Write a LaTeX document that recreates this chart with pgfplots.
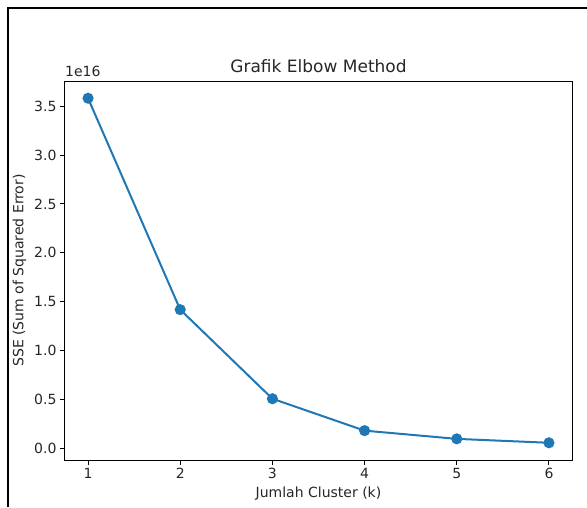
\documentclass[border=0pt]{standalone}
\usepackage{fontspec}
\setmainfont{DejaVu Sans}
\usepackage{pgfplots}
\pgfplotsset{compat=1.18}
\definecolor{mplblue}{RGB}{31,119,180}
\begin{document}
\begin{tikzpicture}
\path[use as bounding box] (0pt,0pt) rectangle (587pt,-507pt);
\draw[line width=2.2pt] (8pt,-507pt) -- (8pt,-8pt) -- (587pt,-8pt);
\begin{axis}[
  at={(65pt,-460pt)},anchor=south west,
  scale only axis,width=507pt,height=379pt,
  xmin=0.75,xmax=6.25,ymin=-0.116,ymax=3.756,
  xtick={1,2,3,4,5,6},ytick={0,0.5,1,1.5,2,2.5,3,3.5},
  scaled y ticks=false,
  yticklabel style={/pgf/number format/.cd,fixed,fixed zerofill,precision=1},
  /pgf/number format/assume math mode=true,
  tick pos=left,tick align=outside,major tick length=5pt,
  tick style={black,line width=1pt},
  axis line style={black,line width=1pt},
  tick label style={font=\fontsize{14}{16}\selectfont,text=black!85},
  label style={font=\fontsize{14}{16}\selectfont,text=black!85},
  title={Grafik Elbow Method},
  title style={font=\fontsize{17}{20}\selectfont,text=black!85,at={(0.5,1)},anchor=south,yshift=-1pt},
  xlabel={Jumlah Cluster (k)},
  ylabel={SSE (Sum of Squared Error)},
  xlabel style={yshift=-1pt},
  ylabel style={yshift=1pt},
  clip=false]
\addplot[color=mplblue,line width=2pt,mark=*,mark size=4.5pt,mark options={fill=mplblue,draw=mplblue}] coordinates {
  (1,3.58)
  (2,1.42)
  (3,0.51)
  (4,0.184)
  (5,0.10)
  (6,0.06)
};
\node[anchor=south west,inner sep=0pt,font=\fontsize{14}{16}\selectfont,text=black!85] at (rel axis cs:0,1) [yshift=4pt] {1e16};
\end{axis}
\end{tikzpicture}
\end{document}
